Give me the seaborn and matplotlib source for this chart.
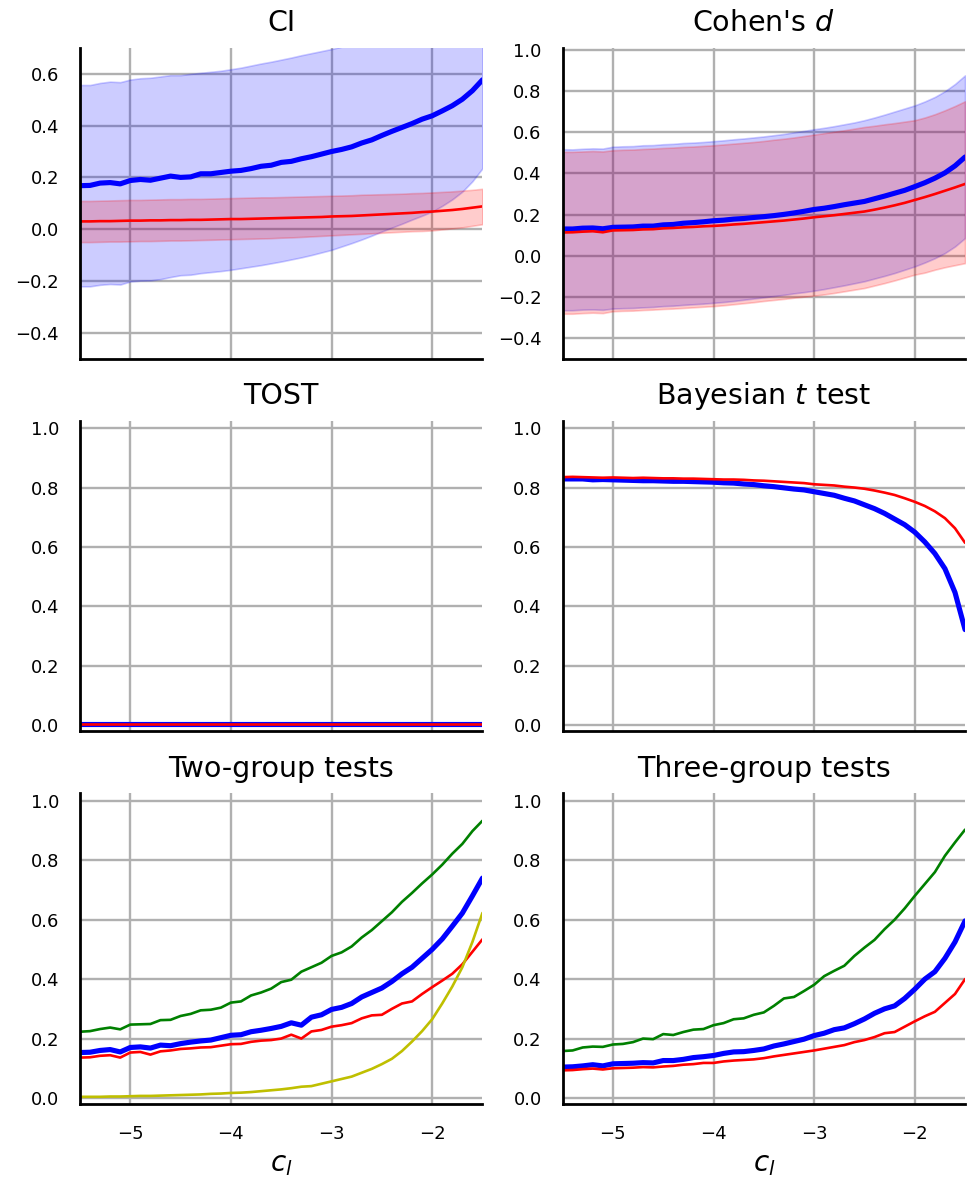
import numpy as np
import pandas as pd
import matplotlib
matplotlib.use("Agg")
import matplotlib.pyplot as plt
import seaborn as sns

# ---------------- data ----------------
c_l = [-5.5, -5.4, -5.3, -5.2, -5.1, -5.0, -4.9, -4.8, -4.7, -4.6, -4.5,
       -4.4, -4.3, -4.2, -4.1, -4.0, -3.9, -3.8, -3.7, -3.6, -3.5,
       -3.4, -3.3, -3.2, -3.1, -3.0, -2.9, -2.8, -2.7, -2.6, -2.5,
       -2.4, -2.3, -2.2, -2.1, -2.0, -1.9, -1.8, -1.7, -1.6, -1.5]

# CI panel
ci_blue_mean = [.168, .169, .178, .180, .175, .188, .192, .189, .197, .205, .200,
                .202, .214, .214, .219, .224, .227, .234, .243, .247, .258,
                .262, .272, .280, .290, .300, .308, .318, .333, .345, .362,
                .378, .393, .408, .425, .438, .457, .477, .502, .535, .577]
ci_blue_hi = [.557, .557, .565, .570, .568, .578, .583, .585, .590, .595, .595,
              .600, .604, .608, .612, .618, .624, .632, .640, .647, .655,
              .663, .672, .680, .688, .696, .705, .716, .728, .742, .758,
              .773, .789, .805, .822, .840, .860, .880, .902, .925, .950]
ci_blue_lo = [-.221, -.221, -.215, -.212, -.214, -.202, -.199, -.198, -.193, -.185, -.178,
              -.176, -.170, -.166, -.162, -.157, -.151, -.145, -.139, -.132, -.125,
              -.117, -.109, -.100, -.090, -.080, -.067, -.054, -.040, -.025, -.009,
              .006, .021, .037, .052, .068, .090, .115, .145, .185, .235]
ci_red_mean = [.030, .030, .031, .031, .032, .033, .033, .034, .034, .035, .035,
               .036, .036, .037, .038, .039, .039, .040, .041, .042, .043,
               .044, .045, .046, .047, .049, .050, .051, .053, .055, .057,
               .059, .061, .063, .066, .068, .071, .074, .078, .083, .088]
ci_red_hi = [.109, .109, .110, .111, .112, .113, .113, .114, .115, .116, .116,
             .117, .117, .118, .119, .120, .121, .122, .123, .123, .124,
             .125, .126, .127, .128, .129, .130, .131, .133, .134, .135,
             .136, .137, .139, .140, .142, .144, .146, .149, .152, .156]
ci_red_lo = [-.050, -.050, -.049, -.048, -.048, -.047, -.046, -.046, -.045, -.044, -.044,
             -.043, -.042, -.041, -.040, -.039, -.038, -.037, -.036, -.035, -.033,
             -.032, -.030, -.028, -.026, -.024, -.022, -.020, -.018, -.016, -.014,
             -.012, -.010, -.008, -.007, -.005, -.001, .003, .007, .013, .019]

# Cohen's d panel
d_blue_mean = [.130, .130, .134, .135, .131, .138, .139, .140, .144, .144, .150,
               .152, .158, .161, .165, .170, .173, .178, .181, .186, .190,
               .195, .201, .208, .216, .225, .231, .239, .248, .256, .264,
               .277, .290, .304, .318, .336, .355, .377, .403, .437, .480]
d_red_mean = [.113, .114, .117, .119, .114, .123, .124, .125, .128, .129, .133,
              .135, .138, .140, .143, .145, .148, .152, .155, .159, .163,
              .167, .171, .176, .181, .187, .192, .197, .203, .209, .215,
              .224, .234, .245, .257, .271, .285, .300, .316, .332, .349]
d_blue_hi = [.518, .517, .520, .522, .521, .530, .532, .533, .537, .538, .542,
             .544, .548, .550, .553, .557, .561, .566, .570, .575, .580,
             .586, .592, .600, .607, .615, .622, .630, .639, .648, .659,
             .672, .686, .701, .716, .731, .750, .772, .800, .835, .877]
d_red_hi = [.505, .505, .507, .509, .507, .513, .515, .516, .519, .521, .524,
            .526, .529, .531, .534, .537, .541, .545, .549, .553, .558,
            .564, .569, .575, .582, .589, .596, .603, .610, .618, .626,
            .632, .639, .645, .652, .659, .672, .688, .707, .728, .751]
d_blue_lo = [-.265, -.265, -.262, -.261, -.263, -.257, -.255, -.254, -.251, -.249, -.245,
             -.243, -.239, -.236, -.233, -.229, -.225, -.220, -.214, -.208, -.202,
             -.196, -.190, -.183, -.177, -.170, -.162, -.153, -.144, -.134, -.124,
             -.111, -.098, -.084, -.068, -.052, -.033, -.012, .013, .045, .086]
d_red_lo = [-.282, -.282, -.279, -.277, -.279, -.270, -.268, -.267, -.264, -.262, -.259,
            -.257, -.254, -.251, -.248, -.245, -.241, -.236, -.231, -.226, -.220,
            -.215, -.210, -.204, -.199, -.194, -.188, -.181, -.173, -.165, -.157,
            -.145, -.133, -.120, -.106, -.092, -.082, -.068, -.056, -.046, -.036]

# TOST panel
tost_blue = [.004, .004, .004, .004, .004, .004, .004, .004, .004, .004, .004,
             .004, .004, .004, .004, .004, .004, .004, .004, .004, .004,
             .004, .004, .004, .004, .004, .004, .004, .004, .004, .004,
             .004, .004, .004, .004, .004, .004, .004, .004, .004, .004]
tost_red = [.006, .006, .006, .006, .006, .006, .006, .006, .006, .006, .006,
            .006, .006, .006, .006, .006, .006, .006, .006, .006, .006,
            .006, .006, .006, .006, .006, .006, .006, .006, .006, .006,
            .006, .006, .006, .006, .006, .006, .006, .006, .006, .006]

# Bayesian t test panel
bt_red = [.835, .836, .835, .834, .833, .834, .833, .832, .833, .832, .831,
          .831, .830, .830, .829, .828, .827, .827, .826, .824, .823,
          .821, .819, .817, .815, .811, .809, .807, .803, .800, .796,
          .790, .783, .775, .764, .752, .738, .720, .697, .663, .614]
bt_blue = [.829, .829, .829, .826, .827, .826, .825, .824, .823, .823, .822,
           .821, .821, .820, .819, .818, .816, .815, .812, .810, .806,
           .803, .799, .795, .792, .786, .780, .774, .764, .755, .742,
           .729, .713, .694, .675, .650, .617, .578, .527, .447, .322]

# Two-group tests panel
g2_green = [.223, .225, .232, .237, .231, .247, .248, .249, .262, .263, .276,
            .283, .295, .297, .304, .321, .325, .345, .355, .368, .390,
            .398, .425, .440, .455, .478, .490, .510, .540, .565, .595,
            .625, .660, .690, .722, .752, .785, .822, .855, .898, .933]
g2_blue = [.153, .154, .160, .163, .155, .170, .172, .168, .178, .176, .183,
           .188, .192, .195, .203, .211, .213, .223, .228, .234, .241,
           .253, .245, .272, .280, .298, .305, .318, .340, .355, .370,
           .392, .418, .440, .470, .500, .535, .578, .622, .680, .740]
g2_red = [.136, .137, .142, .144, .136, .153, .155, .146, .157, .160, .165,
          .167, .170, .171, .176, .181, .182, .189, .193, .195, .200,
          .213, .200, .224, .229, .240, .245, .252, .268, .278, .280,
          .300, .318, .325, .350, .373, .395, .418, .450, .492, .534]
g2_yellow = [.004, .004, .004, .005, .005, .006, .007, .007, .008, .009, .010,
             .011, .012, .014, .015, .017, .018, .020, .023, .026, .029,
             .033, .038, .040, .048, .056, .064, .072, .085, .098, .114,
             .132, .158, .190, .225, .265, .318, .375, .440, .525, .623]

# Three-group tests panel
g3_green = [.158, .160, .170, .173, .172, .180, .182, .188, .200, .198, .215,
            .212, .222, .230, .232, .245, .252, .265, .268, .280, .288,
            .310, .335, .340, .360, .381, .410, .428, .445, .478, .506,
            .532, .568, .600, .638, .680, .720, .760, .815, .860, .903]
g3_blue = [.104, .105, .108, .112, .108, .115, .116, .117, .119, .118, .126,
           .126, .130, .136, .139, .143, .150, .155, .156, .160, .165,
           .175, .182, .190, .198, .210, .218, .230, .236, .250, .266,
           .285, .300, .310, .335, .366, .400, .425, .470, .525, .596]
g3_red = [.093, .094, .097, .099, .096, .100, .101, .102, .104, .103, .106,
          .108, .112, .114, .118, .118, .123, .126, .128, .130, .134,
          .140, .145, .150, .155, .160, .166, .172, .178, .188, .195,
          .205, .218, .222, .240, .258, .275, .290, .320, .350, .400]

titles = ["CI", "Cohen's $d$", "TOST", "Bayesian $t$ test",
          "Two-group tests", "Three-group tests"]
x_ticks = [-5, -4, -3, -2]
x_label = "$c_l$"

# ---------------- style ----------------
sns.set_style("whitegrid", {"axes.edgecolor": "black", "grid.color": "#b0b0b0",
                            "axes.linewidth": 2.0, "text.color": "black",
                            "axes.labelcolor": "black", "xtick.color": "black",
                            "ytick.color": "black"})
plt.rcParams["font.family"] = ["DejaVu Sans"]
plt.rcParams["grid.linewidth"] = 1.7
plt.rcParams["mathtext.fontset"] = "dejavusans"

BLUE_LW = 3.7
THIN_LW = 1.9

fig, axes = plt.subplots(3, 2, figsize=(9.67, 11.85), dpi=100, sharex=True)
fig.subplots_adjust(left=0.0827, right=0.998, top=0.9595, bottom=0.0684,
                    wspace=0.199, hspace=0.2)


def line(ax, y, color, lw):
    sns.lineplot(x=c_l, y=y, ax=ax, color=color, linewidth=lw,
                 estimator=None, sort=False, legend=False)


def band(ax, lo, hi, color):
    ax.fill_between(c_l, lo, hi, color=color, alpha=0.2, linewidth=1.2)


# CI
ax = axes[0, 0]
band(ax, ci_blue_lo, ci_blue_hi, "b")
band(ax, ci_red_lo, ci_red_hi, "r")
line(ax, ci_blue_mean, "b", BLUE_LW)
line(ax, ci_red_mean, "r", THIN_LW)
ax.set_ylim(-0.5, 0.7)
ax.set_yticks([-0.4, -0.2, 0.0, 0.2, 0.4, 0.6])

# Cohen's d
ax = axes[0, 1]
band(ax, d_blue_lo, d_blue_hi, "b")
band(ax, d_red_lo, d_red_hi, "r")
line(ax, d_blue_mean, "b", BLUE_LW)
line(ax, d_red_mean, "r", THIN_LW)
ax.set_ylim(-0.5, 1.01)
ax.set_yticks([-0.4, -0.2, 0.0, 0.2, 0.4, 0.6, 0.8, 1.0])

# TOST
ax = axes[1, 0]
line(ax, tost_blue, "b", BLUE_LW)
line(ax, tost_red, "r", THIN_LW)

# Bayesian
ax = axes[1, 1]
line(ax, bt_blue, "b", BLUE_LW)
line(ax, bt_red, "r", THIN_LW)

# Two-group
ax = axes[2, 0]
line(ax, g2_green, "g", THIN_LW)
line(ax, g2_blue, "b", BLUE_LW)
line(ax, g2_red, "r", THIN_LW)
line(ax, g2_yellow, "y", THIN_LW)

# Three-group
ax = axes[2, 1]
line(ax, g3_green, "g", THIN_LW)
line(ax, g3_blue, "b", BLUE_LW)
line(ax, g3_red, "r", THIN_LW)

for ax in axes[1:, :].flat:
    ax.set_ylim(-0.02, 1.025)
    ax.set_yticks([0.0, 0.2, 0.4, 0.6, 0.8, 1.0])

for i, ax in enumerate(axes.flat):
    ax.set_title(titles[i], fontsize=20.5, pad=12, color="black")
    ax.set_xlim(-5.5, -1.5)
    ax.set_xticks(x_ticks)
    ax.tick_params(axis="both", length=0, labelsize=13, colors="black")
    ax.tick_params(axis="y", pad=15)
    ax.tick_params(axis="x", pad=15)
    ax.set_xlabel("")
    ax.set_ylabel("")
    sns.despine(ax=ax)
    ax.spines["left"].set_linewidth(2.0)
    ax.spines["bottom"].set_linewidth(2.0)
    ax.set_axisbelow(True)

for ax in axes[:2, :].flat:
    ax.tick_params(axis="x", labelbottom=False)

for ax in axes[2, :]:
    ax.set_xlabel(x_label, fontsize=20, labelpad=5, color="black")

fig.savefig("out.png", dpi=100)
